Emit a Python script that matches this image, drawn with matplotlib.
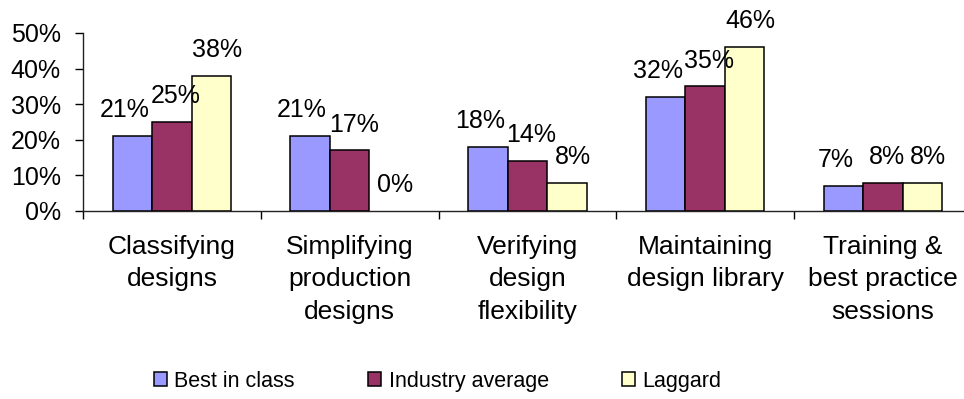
import matplotlib
matplotlib.use('Agg')
from matplotlib import pyplot as plt
import numpy as np

plt.rcParams['font.family'] = ['Liberation Sans', 'DejaVu Sans']

categories = ['Classifying\ndesigns', 'Simplifying\nproduction\ndesigns',
              'Verifying\ndesign\nflexibility', 'Maintaining\ndesign library',
              'Training &\nbest practice\nsessions']
series_names = ['Best in class', 'Industry average', 'Laggard']
best_in_class = [21, 21, 18, 32, 7]
industry_average = [25, 17, 14, 35, 8]
laggard = [38, 0, 8, 46, 8]
colors = ['#9999FF', '#993366', '#FFFFCC']

fig = plt.figure(figsize=(9.64, 3.99), dpi=100)
ax = fig.add_axes([0.0861, 0.4712, 0.922, 0.4461])

width = 0.222
x = np.arange(len(categories))
label_shift = [-8, 4, 6]  # pixels, mimic Excel label spreading
for j, vals in enumerate([best_in_class, industry_average, laggard]):
    pos = x + (j - 1) * width
    lw = [1.1 if v > 0 else 0 for v in vals]
    ax.bar(pos, vals, width, color=colors[j], edgecolor='black',
           linewidth=lw, label=series_names[j], zorder=3)
    for px, v in zip(pos, vals):
        ax.annotate('%d%%' % v, (px, v), xytext=(label_shift[j] * 0.72, 10),
                    textcoords='offset points', ha='center', va='bottom',
                    fontsize=18, zorder=4)

ax.set_xlim(-0.5, len(categories) - 0.5)
ax.set_ylim(0, 50)
ax.set_yticks(range(0, 51, 10))
ax.set_yticklabels(['%d%%' % t for t in range(0, 51, 10)], fontsize=18)
ax.tick_params(axis='y', length=6, width=1, pad=10, direction='out')

ax.set_xticks(np.arange(len(categories) + 1) - 0.5)
ax.set_xticklabels([])
ax.tick_params(axis='x', which='major', length=5.5, width=1, direction='out')
ax.set_xticks(x, minor=True)
ax.set_xticklabels(categories, minor=True, fontsize=19, linespacing=1.45,
                   va='top')
ax.tick_params(axis='x', which='minor', length=0, pad=17)

for s in ['top', 'right']:
    ax.spines[s].set_visible(False)
for s in ['left', 'bottom']:
    ax.spines[s].set_linewidth(1)
    ax.spines[s].set_color('#222222')

handles, labels = ax.get_legend_handles_labels()
fig.legend(handles, labels, loc='center', bbox_to_anchor=(0.454, 0.045),
           ncol=3, frameon=False, fontsize=15.5, handlelength=0.6,
           handleheight=0.6, handletextpad=0.35, columnspacing=3.4)

fig.savefig('out.png', dpi=100)
